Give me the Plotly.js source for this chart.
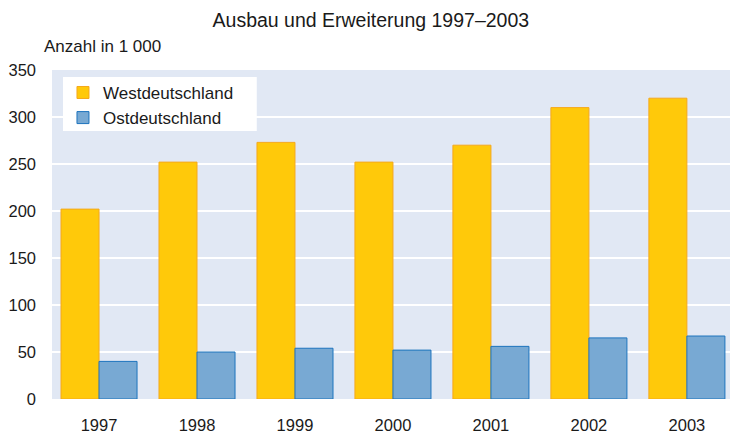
<!DOCTYPE html>
<html><head><meta charset="utf-8">
<script src="https://cdn.plot.ly/plotly-3.0.1.min.js"></script>
<style>body{margin:0;}#c{width:730px;height:434px;}</style>
</head><body><div id="c"></div>
<script>
const years = ['1997','1998','1999','2000','2001','2002','2003'];
const west = [202, 252, 273, 252, 270, 310, 320];
const ost = [40, 50, 54, 52, 56, 65, 67];
const yTicks = [0, 50, 100, 150, 200, 250, 300, 350];

const data = [
  {type:'bar', name:'Westdeutschland', x:years, y:west,
   marker:{color:'#ffc90a', line:{color:'#f5a81c', width:1}}},
  {type:'bar', name:'Ostdeutschland', x:years, y:ost,
   marker:{color:'#78a9d3', line:{color:'#1d74bd', width:1}}}
];
const layout = {
  width:730, height:434,
  margin:{l:52, r:0, t:70, b:35},
  paper_bgcolor:'#ffffff', plot_bgcolor:'#e1e8f4',
  font:{family:'Liberation Sans, Arial, sans-serif', size:16.5, color:'#1a1a1a'},
  title:{text:'Ausbau und Erweiterung 1997–2003', x:0.508, xanchor:'center', y:0.953, yanchor:'middle', font:{size:19.5}},
  barmode:'group', bargap:0.224, bargroupgap:0,
  xaxis:{type:'category', range:[-0.48, 6.44], showgrid:false, zeroline:false, showline:false,
         ticks:'', ticklabelstandoff:14, tickfont:{size:16.5}},
  yaxis:{range:[0,350], tickvals:yTicks, showgrid:true, gridcolor:'#ffffff', gridwidth:2,
         zeroline:false, showline:false, ticks:'', ticklabelstandoff:15, tickfont:{size:16.5}},
  legend:{x:0.0162, y:0.985, xanchor:'left', yanchor:'top', bgcolor:'rgba(0,0,0,0)',
          font:{size:17}, itemwidth:30, tracegroupgap:0, borderwidth:0},
  showlegend:true,
  shapes:[{type:'rect', xref:'paper', yref:'paper', x0:0.0162, x1:0.302, y0:0.8146, y1:0.9787,
           fillcolor:'#ffffff', line:{width:0}, layer:'between'}],
  annotations:[{text:'Anzahl in 1 000', xref:'paper', yref:'paper', x:-0.015, y:1.035,
                xanchor:'left', yanchor:'bottom', showarrow:false, font:{size:17}}]
};
Plotly.newPlot('c', data, layout, {displayModeBar:false, staticPlot:true});
</script></body></html>
